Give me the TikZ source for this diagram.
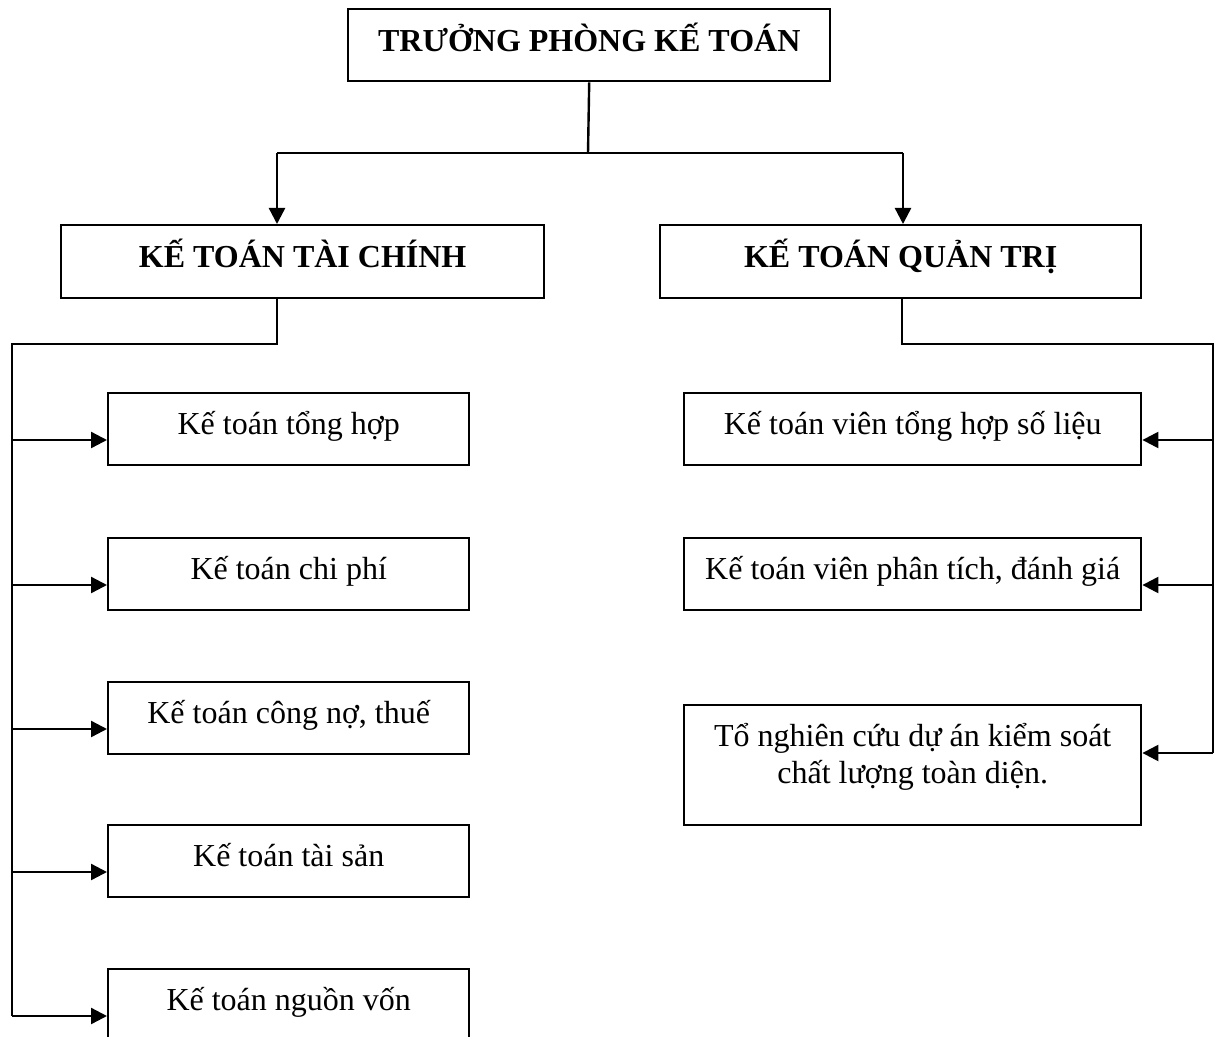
\documentclass[tikz,border=0pt]{standalone}
\usepackage{fontspec}
\setmainfont{Liberation Serif}
\usetikzlibrary{arrows.meta,calc}
\begin{document}
\begin{tikzpicture}[x=0.75pt,y=-0.75pt,
  line width=1.8pt,
  box/.style={draw, line width=1.8pt, inner sep=0pt, anchor=north west, align=center,
    font=\fontsize{24pt}{27.6pt}\selectfont},
  bbox/.style={box, font=\fontsize{24pt}{27.6pt}\selectfont\bfseries, text height=31.5pt},
  one/.style={text height=30.75pt, text depth=23.25pt},
  lbox/.style={box, one, minimum width=270.75pt},
  rbox/.style={box, one, minimum width=342.75pt},
  arr/.style={-{Triangle[length=12pt,width=12pt]}}]
\useasboundingbox (0,0) rectangle (1219,1037);

% top level
\node[bbox, minimum width=361.5pt, text depth=22.5pt] (tp) at (347,8) {TRƯỞNG PHÒNG KẾ TOÁN};
\node[bbox, minimum width=362.25pt, text depth=23.25pt] (kttc) at (60,224) {KẾ TOÁN TÀI CHÍNH};
\node[bbox, minimum width=360.75pt, text depth=23.25pt] (ktqt) at (659,224) {KẾ TOÁN QUẢN TRỊ};

% left column
\node[lbox] (l1) at (107,392) {Kế toán tổng hợp};
\node[lbox] (l2) at (107,537) {Kế toán chi phí};
\node[lbox] (l3) at (107,681) {Kế toán công nợ, thuế};
\node[lbox] (l4) at (107,824) {Kế toán tài sản};
\node[lbox] (l5) at (107,968) {Kế toán nguồn vốn};

% right column
\node[rbox] (r1) at (683,392) {Kế toán viên tổng hợp số liệu};
\node[rbox] (r2) at (683,537) {Kế toán viên phân tích, đánh giá};
\node[rbox, text height=58.35pt, text depth=31.65pt] (r3) at (683,704) {Tổ nghiên cứu dự án kiểm soát\\chất lượng toàn diện.};

% top connectors
\coordinate (hb) at (588,153);
\coordinate (hl) at (277,153);
\coordinate (hr) at (903,153);
\draw (tp.south) -- (hb);
\draw (hl) -- (hr);
\draw[arr] (hl) -- (hl |- kttc.north);
\draw[arr] (hr) -- (hr |- ktqt.north);

% left trunk
\coordinate (ld) at (277,344);
\coordinate (lc) at (12,344);
\foreach \i in {1,...,5} {
  \coordinate (a\i) at ($(l\i.north west)+(0,48)$);
}
\draw (ld |- kttc.south) -- (ld) -- (lc) -- (lc |- a5);
\foreach \i in {1,...,5} {
  \draw[arr] (a\i -| lc) -- (a\i);
}

% right trunk
\coordinate (rd) at (902,344);
\coordinate (rc) at (1213,344);
\coordinate (b1) at ($(r1.north east)+(0,48)$);
\coordinate (b2) at ($(r2.north east)+(0,48)$);
\coordinate (b3) at ($(r3.north east)+(0,49)$);
\draw (rd |- ktqt.south) -- (rd) -- (rc) -- (rc |- b3);
\foreach \i in {1,2,3} {
  \draw[arr] (b\i -| rc) -- (b\i);
}
\end{tikzpicture}
\end{document}
